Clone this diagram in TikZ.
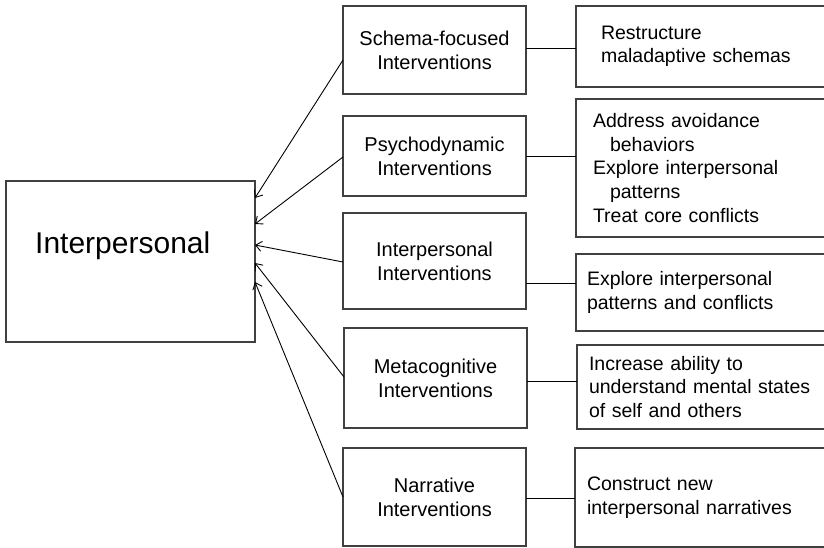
\documentclass[tikz,border=0pt]{standalone}
\usepackage{fontspec}
\setmainfont{Liberation Sans}
\usetikzlibrary{arrows.meta}
\begin{document}
\begin{tikzpicture}[x=1pt,y=-1pt,
  box/.style={draw=black!75, line width=1.3pt, inner sep=0pt, outer sep=0pt},
  midbox/.style={box, minimum width=183pt, align=center,
    font=\fontsize{20}{24}\selectfont},
  aimbox/.style={box, anchor=west, align=left,
    font=\fontsize{19.5}{23.6}\selectfont},
  link/.style={draw=black, line width=0.9pt},
  pull/.style={link, -{Straight Barb[length=6pt,width=10pt,line width=0.9pt]}}
]
\path[use as bounding box, clip] (0,0) rectangle (824,548);

% central box
\node[box, minimum width=249pt, minimum height=161pt] (core) at (130.5,261.5) {};
\node[anchor=base west, inner sep=0pt, font=\fontsize{30}{36}\selectfont]
  (coretxt) at (35,253) {Interpersonal};

% intervention boxes
\node[midbox, minimum height=88pt]  (m1) at (434.5,50)  {Schema-focused\\Interventions};
\node[midbox, minimum height=80pt]  (m2) at (434.5,156) {Psychodynamic\\Interventions};
\node[midbox, minimum height=96pt]  (m3) at (434.5,261) {Interpersonal\\Interventions};
\node[midbox, minimum height=100pt] (m4) at (435.5,378) {Metacognitive\\Interventions};
\node[midbox, minimum height=98pt]  (m5) at (434.5,497) {Narrative\\Interventions};

% aim boxes (running off the right edge)
\node[aimbox, minimum height=81pt, inner xsep=25pt, text width=274pt]
  (r1) at (576,46.5) {Restructure\\maladaptive schemas};
\node[aimbox, minimum height=138pt, inner xsep=17pt, text width=290pt]
  (r2) at (576,168) {Address avoidance\\\hspace*{17pt}behaviors\\Explore interpersonal\\\hspace*{17pt}patterns\\Treat core conflicts};
\node[aimbox, minimum height=77pt, inner xsep=11pt, text width=302pt]
  (r3) at (576,292.5) {Explore interpersonal\\patterns and conflicts};
\node[aimbox, minimum height=84pt, inner xsep=12pt, text width=300pt]
  (r4) at (577,387) {Increase ability to\\understand mental states\\of self and others};
\node[aimbox, minimum height=99pt, inner xsep=12pt, text width=300pt]
  (r5) at (575,497.5) {Construct new\\interpersonal narratives};

% intervention -> aim
\draw[link] ([yshift=2pt]m1.east) -- ([yshift=2pt]m1.east -| r1.west);
\draw[link] (m2.east) -- (m2.east -| r2.west);
\draw[link] ([yshift=-22pt]m3.east) -- ([yshift=-22pt]m3.east -| r3.west);
\draw[link] ([yshift=-3pt]m4.east) -- ([yshift=-3pt]m4.east -| r4.west);
\draw[link] ([yshift=-1pt]m5.east) -- ([yshift=-1pt]m5.east -| r5.west);

% intervention -> central box
\draw[pull] ([yshift=-10pt]m1.west) -- ([yshift=63.5pt]core.east);
\draw[pull] ([yshift=-1pt]m2.west)  -- ([yshift=37.5pt]core.east);
\draw[pull] ([yshift=-1pt]m3.west)  -- ([yshift=16.5pt]core.east);
\draw[pull] ([yshift=1pt]m4.west)   -- ([yshift=-1.5pt]core.east);
\draw[pull] (m5.west)               -- ([yshift=-20.5pt]core.east);
\end{tikzpicture}
\end{document}
